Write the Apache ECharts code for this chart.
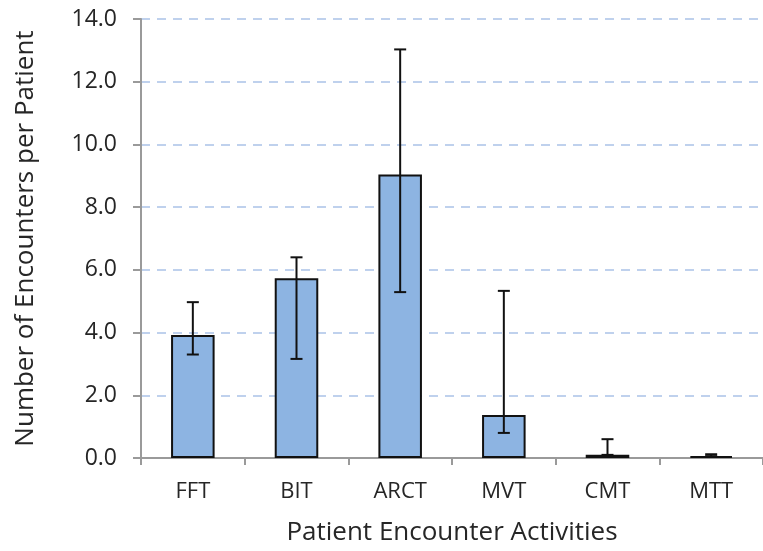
<!DOCTYPE html>
<html><head><meta charset="utf-8">
<script src="https://cdn.jsdelivr.net/npm/echarts@6/dist/echarts.min.js"></script>
<style>html,body{margin:0;padding:0;background:#fff}#c{width:763px;height:551px}</style>
</head><body><div id="c"></div>
<script>
var categories = ['FFT', 'BIT', 'ARCT', 'MVT', 'CMT', 'MTT'];
var values = [3.92, 5.73, 9.04, 1.37, 0.10, 0.06];
var errLow = [3.30, 3.16, 5.29, 0.80, 0.10, 0.06];
var errHigh = [4.97, 6.40, 13.03, 5.33, 0.60, 0.12];
var yTicks = [0, 2, 4, 6, 8, 10, 12, 14];

var font = 'Open Sans';
var chart = echarts.init(document.getElementById('c'));
var errData = categories.map(function (c, i) { return [i, errLow[i], errHigh[i]]; });
chart.setOption({
  animation: false,
  grid: { left: 141, top: 19, bottom: 92, right: -11, containLabel: false },
  xAxis: {
    type: 'category', data: categories,
    name: 'Patient Encounter Activities', nameLocation: 'middle', nameGap: 62,
    nameTextStyle: { fontFamily: font, fontSize: 26, color: '#262626' },
    axisLine: { lineStyle: { color: '#9a9a9a', width: 2 } },
    axisTick: { show: true, length: 7, lineStyle: { color: '#9a9a9a', width: 2 } },
    axisLabel: { fontFamily: font, fontSize: 22, color: '#262626', margin: 23 }
  },
  yAxis: {
    type: 'value', min: 0, max: 14, interval: 2,
    name: 'Number of Encounters per Patient', nameLocation: 'middle', nameGap: 102,
    nameTextStyle: { fontFamily: font, fontSize: 26, color: '#262626' },
    axisLine: { show: true, lineStyle: { color: '#9a9a9a', width: 2 } },
    axisTick: { show: true, length: 8, lineStyle: { color: '#9a9a9a', width: 2 } },
    axisLabel: { fontFamily: font, fontSize: 23, color: '#262626', margin: 24,
      formatter: function (v) { return yTicks.indexOf(v) >= 0 ? v.toFixed(1) : ''; } },
    splitLine: { show: true, lineStyle: { color: '#abc2e8', width: 1.5, type: [9, 7] } }
  },
  series: [
    {
      type: 'bar', data: values, barWidth: '42%',
      itemStyle: { color: '#8db4e2', borderColor: '#111', borderWidth: 2 }
    },
    {
      type: 'custom', data: errData, z: 10,
      renderItem: function (params, api) {
        var x = api.value(0);
        var lo = api.coord([x, api.value(1)]);
        var hi = api.coord([x, api.value(2)]);
        var hw = 6;
        var style = { stroke: '#111', lineWidth: 2 };
        return {
          type: 'group', children: [
            { type: 'line', shape: { x1: hi[0], y1: hi[1], x2: lo[0], y2: lo[1] }, style: style },
            { type: 'line', shape: { x1: hi[0] - hw, y1: hi[1], x2: hi[0] + hw, y2: hi[1] }, style: style },
            { type: 'line', shape: { x1: lo[0] - hw, y1: lo[1], x2: lo[0] + hw, y2: lo[1] }, style: style }
          ]
        };
      }
    }
  ]
});
</script></body></html>
